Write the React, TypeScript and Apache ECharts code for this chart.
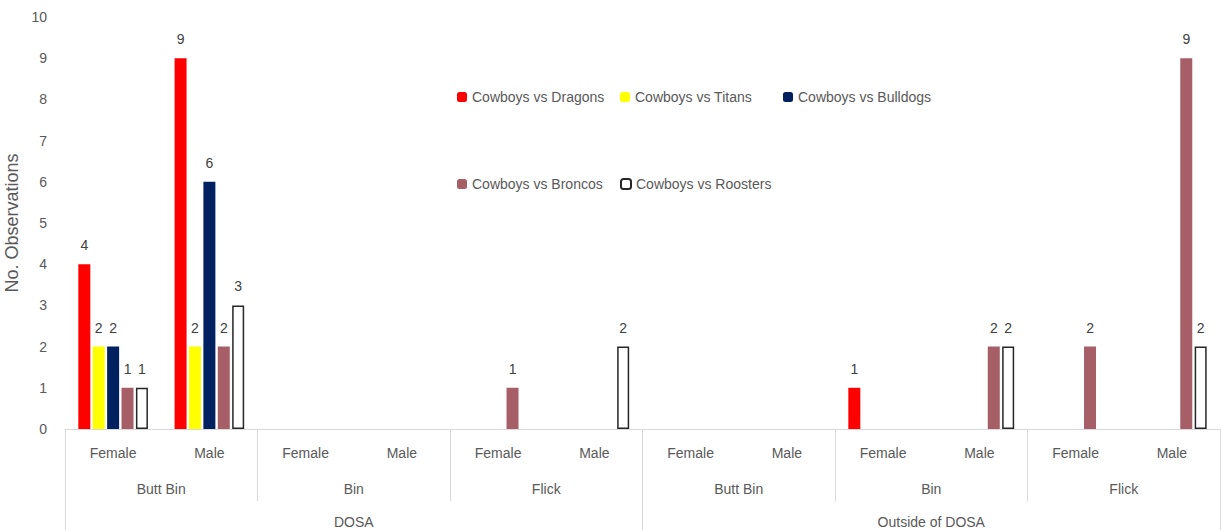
import React, { useEffect, useRef } from "react";
import * as echarts from "echarts";

const genders = ["Female", "Male", "Female", "Male", "Female", "Male", "Female", "Male", "Female", "Male", "Female", "Male"];
const methods = ["Butt Bin", "Bin", "Flick", "Butt Bin", "Bin", "Flick"];
const locations = ["DOSA", "Outside of DOSA"];

const seriesNames = ["Cowboys vs Dragons", "Cowboys vs Titans", "Cowboys vs Bulldogs", "Cowboys vs Broncos", "Cowboys vs Roosters"];
const dragons = [4, 9, 0, 0, 0, 0, 0, 0, 1, 0, 0, 0];
const titans = [2, 2, 0, 0, 0, 0, 0, 0, 0, 0, 0, 0];
const bulldogs = [2, 6, 0, 0, 0, 0, 0, 0, 0, 0, 0, 0];
const broncos = [1, 2, 0, 0, 1, 0, 0, 0, 0, 2, 2, 9];
const roosters = [1, 3, 0, 0, 0, 2, 0, 0, 0, 2, 0, 2];
const seriesValues = [dragons, titans, bulldogs, broncos, roosters];

const colors = ["#FF0000", "#FFFF00", "#002060", "#A65F66", "#FFFFFF"];
const legendPos = [
  { left: 457, top: 90 },
  { left: 620, top: 90 },
  { left: 783, top: 90 },
  { left: 457, top: 177 },
  { left: 620, top: 177 },
];

const FONT = "'Liberation Sans', Arial, sans-serif";
const GREY = "#595959";
const LINE = "#D9D9D9";

export default function App() {
  const ref = useRef<HTMLDivElement>(null);
  useEffect(() => {
    if (!ref.current) return;
    const chart = echarts.init(ref.current, null, { renderer: "svg" });
    const gridRect = { left: 65, right: 1, top: 17, bottom: 101, containLabel: false, outerBoundsMode: "none" };
    const hiddenY = { type: "value", min: 0, max: 10, show: false };
    const option: any = {
      animation: false,
      textStyle: { fontFamily: FONT },
      grid: [gridRect, gridRect, gridRect],
      legend: seriesNames.map((n, i) => ({
        data: [n],
        left: legendPos[i].left,
        top: legendPos[i].top,
        padding: 0,
        itemWidth: 10,
        itemHeight: 10,
        itemGap: 4,
        textStyle: { color: GREY, fontSize: 14, fontFamily: FONT },
        selectedMode: false,
      })),
      xAxis: [
        {
          type: "category",
          gridIndex: 0,
          data: genders,
          axisLine: { show: true, lineStyle: { color: LINE, width: 1 } },
          axisTick: { show: false },
          axisLabel: { color: GREY, fontSize: 14, margin: 17, fontFamily: FONT },
        },
        {
          type: "category",
          gridIndex: 1,
          data: methods,
          axisLine: { show: false },
          axisTick: { show: true, length: 72, lineStyle: { color: LINE, width: 1 } },
          axisLabel: { color: GREY, fontSize: 14, margin: 53, fontFamily: FONT },
        },
        {
          type: "category",
          gridIndex: 2,
          data: locations,
          axisLine: { show: false },
          axisTick: { show: true, length: 101, lineStyle: { color: LINE, width: 1 } },
          axisLabel: { color: GREY, fontSize: 14, margin: 86, fontFamily: FONT },
        },
      ],
      yAxis: [
        {
          type: "value",
          gridIndex: 0,
          min: 0,
          max: 10,
          interval: 1,
          name: "No. Observations",
          nameLocation: "middle",
          nameGap: 36,
          nameTextStyle: { color: GREY, fontSize: 18, fontFamily: FONT },
          axisLine: { show: false },
          axisTick: { show: false },
          splitLine: { show: false },
          axisLabel: { color: GREY, fontSize: 14, margin: 18, fontFamily: FONT },
        },
        { ...hiddenY, gridIndex: 1 },
        { ...hiddenY, gridIndex: 2 },
      ],
      series: seriesNames.map((name, i) => ({
        name,
        type: "bar",
        xAxisIndex: 0,
        yAxisIndex: 0,
        barWidth: 12,
        barGap: "20%",
        data: seriesValues[i].map((v) => (v === 0 ? null : v)),
        itemStyle:
          i === 4
            ? { color: "#FFFFFF", borderColor: "#262626", borderWidth: 1.5 }
            : { color: colors[i] },
        label: {
          show: true,
          position: "top",
          distance: 12,
          color: "#404040",
          fontSize: 14,
          fontFamily: FONT,
        },
      })),
    };
    chart.setOption(option);
    return () => chart.dispose();
  }, []);
  return <div ref={ref} style={{ position: "fixed", left: 0, top: 0, width: 1221, height: 530, background: "#fff" }} />;
}
